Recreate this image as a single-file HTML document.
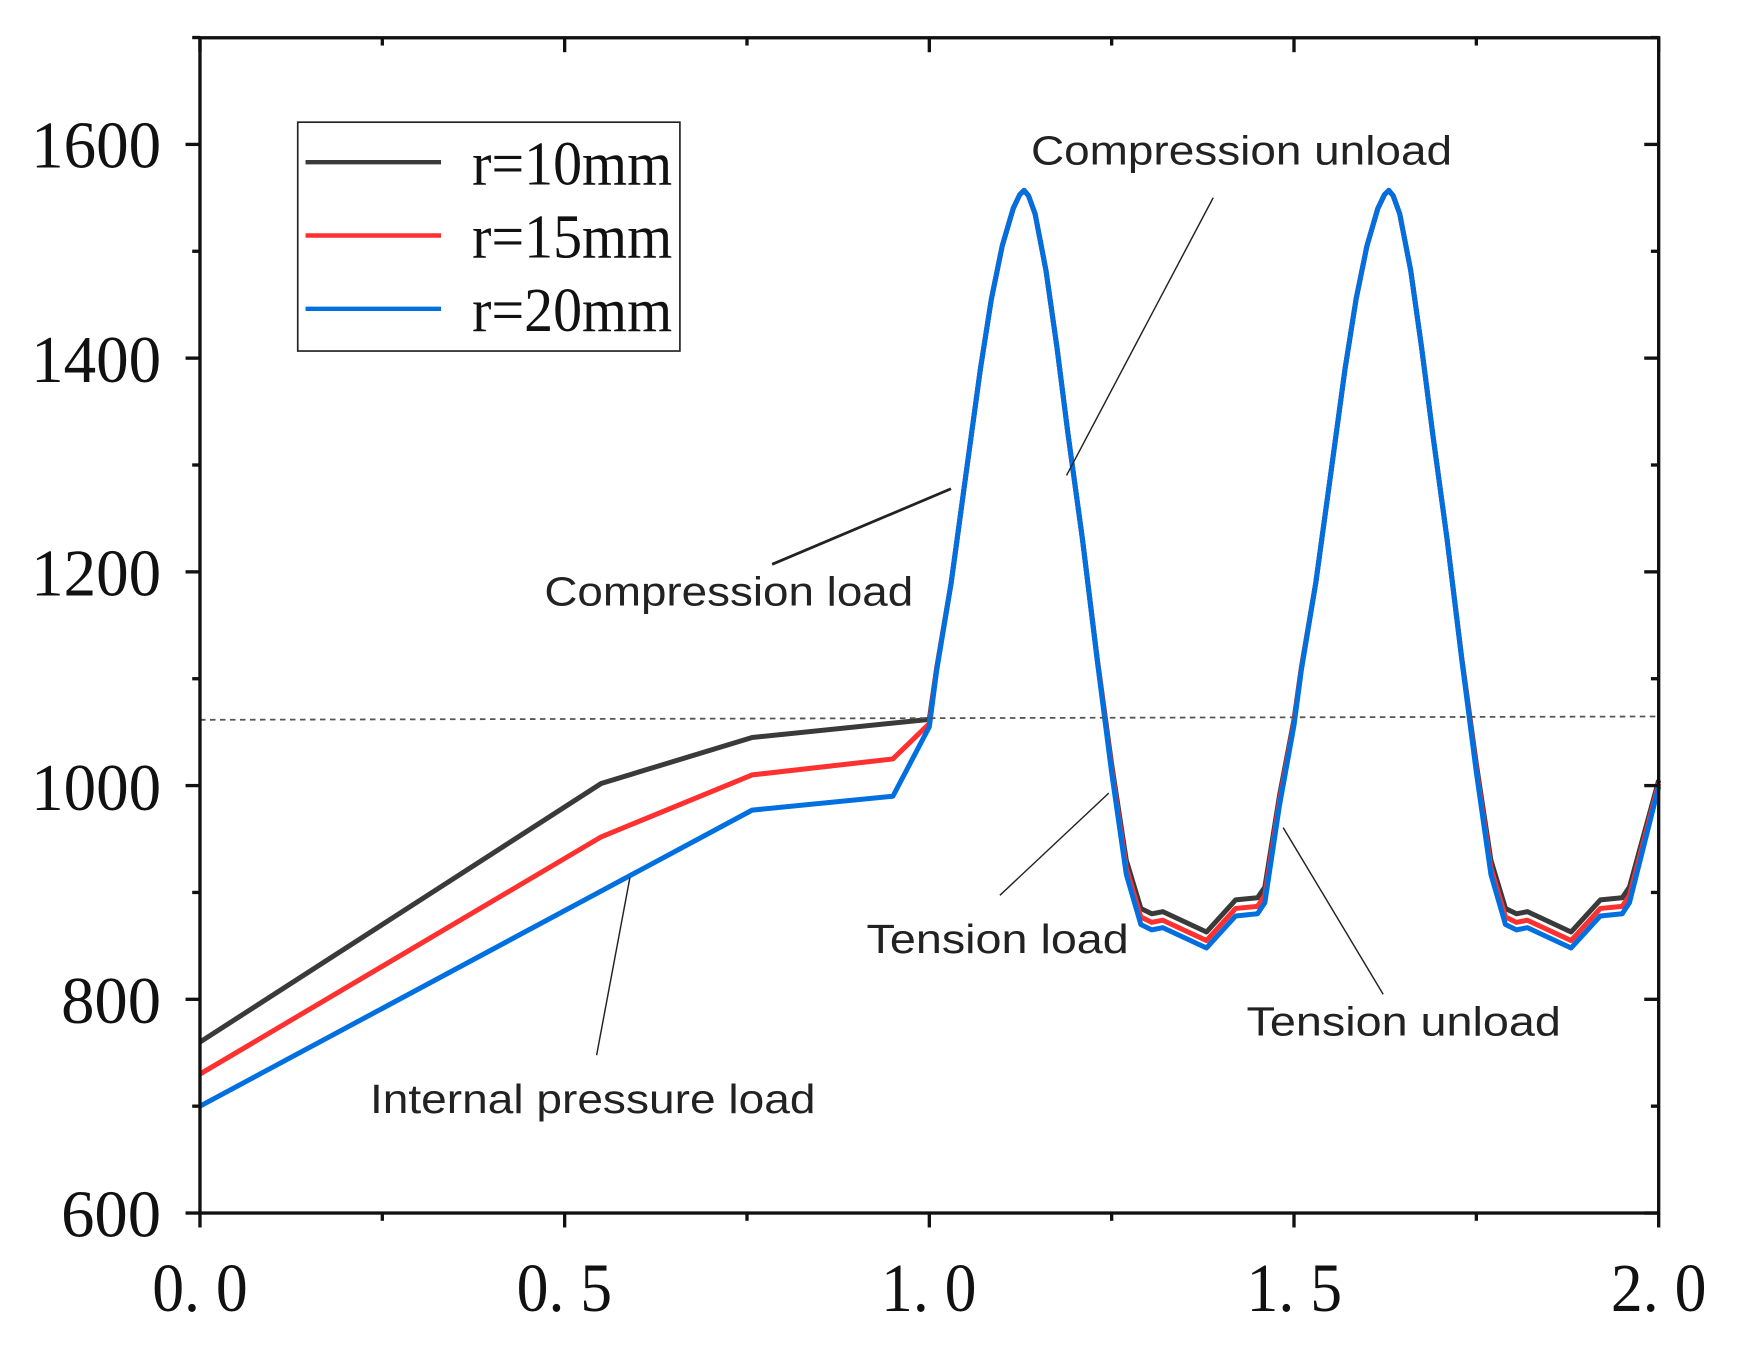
<!DOCTYPE html>
<html><head><meta charset="utf-8"><style>html,body{margin:0;padding:0;background:#fff}svg{display:block}</style></head>
<body>
<svg id="s" width="1742" height="1353" viewBox="0 0 1568 1218" preserveAspectRatio="none" xmlns="http://www.w3.org/2000/svg">
<rect width="1568" height="1218" fill="#fff"/>
<g id="curves" fill="none" stroke-linejoin="round" stroke-width="4.5"></g>
<line x1="180" y1="648" x2="1490" y2="645" stroke="#555" stroke-width="1.6" stroke-dasharray="5,4"/>
<g stroke="#111" stroke-width="3" fill="none">
<rect x="180" y="34" width="1313" height="1058"/>
</g>
<g id="ticks" stroke="#111" stroke-width="3"></g>
<g font-family="Liberation Serif, serif" font-size="60" fill="#111" text-anchor="end">
<text x="145" y="1113" textLength="90" lengthAdjust="spacingAndGlyphs">600</text>
<text x="145" y="921" textLength="90" lengthAdjust="spacingAndGlyphs">800</text>
<text x="145" y="729" textLength="117" lengthAdjust="spacingAndGlyphs">1000</text>
<text x="145" y="536" textLength="117" lengthAdjust="spacingAndGlyphs">1200</text>
<text x="145" y="344" textLength="117" lengthAdjust="spacingAndGlyphs">1400</text>
<text x="145" y="151" textLength="117" lengthAdjust="spacingAndGlyphs">1600</text>
</g>
<g font-family="Liberation Serif, serif" font-size="62" fill="#111">
<text x="137" y="1180" textLength="86" lengthAdjust="spacingAndGlyphs">0. 0</text>
<text x="465" y="1180" textLength="86" lengthAdjust="spacingAndGlyphs">0. 5</text>
<text x="793" y="1180" textLength="86" lengthAdjust="spacingAndGlyphs">1. 0</text>
<text x="1122" y="1180" textLength="86" lengthAdjust="spacingAndGlyphs">1. 5</text>
<text x="1450" y="1180" textLength="86" lengthAdjust="spacingAndGlyphs">2. 0</text>
</g>
<rect x="268" y="110" width="344" height="206" fill="#fff" stroke="#222" stroke-width="1.5"/>
<line x1="275" y1="146" x2="397" y2="146" stroke="#3a3a3a" stroke-width="4"/>
<line x1="275" y1="212" x2="397" y2="212" stroke="#ff3030" stroke-width="4"/>
<line x1="275" y1="278" x2="397" y2="278" stroke="#0070e0" stroke-width="4"/>
<g font-family="Liberation Serif, serif" font-size="56" fill="#111">
<text x="425" y="166" textLength="180" lengthAdjust="spacingAndGlyphs">r=10mm</text>
<text x="425" y="232" textLength="180" lengthAdjust="spacingAndGlyphs">r=15mm</text>
<text x="425" y="298" textLength="180" lengthAdjust="spacingAndGlyphs">r=20mm</text>
</g>
<g stroke="#222" fill="none">
<line x1="1092" y1="178" x2="960" y2="428" stroke-width="1.3"/>
<line x1="695" y1="508" x2="856" y2="440" stroke-width="2.5"/>
<line x1="900" y1="806" x2="998" y2="714" stroke-width="1.3"/>
<line x1="1245" y1="895" x2="1155" y2="745" stroke-width="1.3"/>
<line x1="537" y1="950" x2="567" y2="790" stroke-width="1.3"/>
</g>
<g font-family="Liberation Sans, sans-serif" font-size="37" fill="#222">
<text x="928" y="148" textLength="379" lengthAdjust="spacingAndGlyphs">Compression unload</text>
<text x="490" y="545" textLength="332" lengthAdjust="spacingAndGlyphs">Compression load</text>
<text x="780" y="858" textLength="236" lengthAdjust="spacingAndGlyphs">Tension load</text>
<text x="1122" y="932" textLength="283" lengthAdjust="spacingAndGlyphs">Tension unload</text>
<text x="333" y="1002" textLength="401" lengthAdjust="spacingAndGlyphs">Internal pressure load</text>
</g>
</svg>
<script>
(function(){
var NS="http://www.w3.org/2000/svg";
function X(x){return 180+x*656.5;}
function Y(v){return 1092-(v-600)*0.962;}
var t=document.getElementById('ticks');
function ln(x1,y1,x2,y2){var l=document.createElementNS(NS,'line');l.setAttribute('x1',x1);l.setAttribute('y1',y1);l.setAttribute('x2',x2);l.setAttribute('y2',y2);t.appendChild(l);}
for(var v=600;v<=1700;v+=100){var y=Y(v);var maj=(v%200==0);var L=maj?13:7;ln(180-L,y,180,y);ln(1493-L,y,1493,y);}
for(var i=0;i<=8;i++){var x=X(i*0.25);var maj=(i%2==0);var L=maj?13:7;ln(x,1092,x,1092+L);ln(x,34,x,34+L);}
var cyc=[[-0.12,1110],[-0.10,1190],[-0.08,1290],[-0.06,1390],[-0.045,1455],[-0.03,1505],[-0.015,1540],[-0.006,1553],[0,1557],[0.006,1552],[0.015,1535],[0.03,1482],[0.045,1410],[0.06,1330],[0.08,1230],[0.10,1120],[0.12,1020],[0.14,930],[0.16,885],[0.175,880],[0.19,882],[0.25,863],[0.29,893],[0.32,895],[0.33,905]];
function build(start,off){
  var pts=start.slice();
  [1.13,1.63].forEach(function(c,k){
    cyc.forEach(function(p){var v=p[1];var f=Math.max(0,Math.min(1,(1150-v)/250));pts.push([c+p[0],v-off*f]);});
    if(k==0){pts.push([1.48,990-off*0.6]);pts.push([1.5,1062-off*0.35]);}
  });
  pts.push([2.0,1005-off*0.4]);
  return pts.map(function(p){return X(p[0]).toFixed(1)+','+Y(p[1]).toFixed(1);}).join(' ');
}
var g=document.getElementById('curves');
var series=[
 ['#3a3a3a',[[0,760],[0.55,1002],[0.757,1045],[1.0,1062]],0],
 ['#ff3030',[[0,730],[0.55,952],[0.757,1010],[0.95,1025],[1.0,1058]],8],
 ['#0070e0',[[0,700],[0.757,977],[0.95,990],[1.0,1055]],15]
];
series.forEach(function(s){var p=document.createElementNS(NS,'polyline');p.setAttribute('points',build(s[1],s[2]));p.setAttribute('stroke',s[0]);g.appendChild(p);});
})();
</script>
</body></html>
